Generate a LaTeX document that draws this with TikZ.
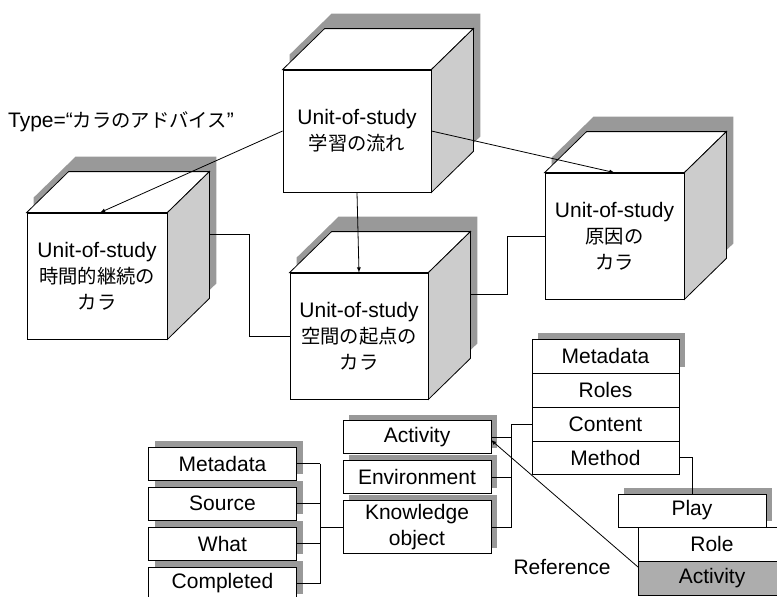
\documentclass[tikz,border=0pt]{standalone}
\usepackage{fontspec}
\setmainfont{Liberation Sans}
\newfontfamily\cjk{Noto Sans CJK JP}[Scale=0.92]
\usepackage{tikz}
\usetikzlibrary{arrows,positioning,shadows,backgrounds}

\definecolor{shadegray}{gray}{0.6}
\definecolor{sidegray}{gray}{0.8}
\definecolor{cellgray}{gray}{0.68}

\tikzset{
  front/.style={draw, fill=white, inner sep=0pt, align=center, minimum width=140pt, minimum height=126pt},
  part/.style={draw, fill=white, inner sep=0pt, outer sep=0pt, align=center, minimum width=148pt, minimum height=33pt,
    drop shadow={shadow xshift=6pt, shadow yshift=6pt, fill=shadegray, opacity=1}},
  cell/.style={draw, fill=white, inner sep=0pt, outer sep=0pt, minimum width=147pt, minimum height=34pt},
  link/.style={-latex},
}

% shadow, top and side of a cube round its front node
\newcommand\cubeparts[1]{%
  \begin{scope}[on background layer]
    \fill[shadegray] ([shift={(7,-15)}]#1.south west) -- ([shift={(7,-15)}]#1.north west)
      -- ([shift={(49,-56)}]#1.north west) -- ([shift={(49,-56)}]#1.north east)
      -- ([shift={(49,-56)}]#1.south east) -- ([shift={(7,-15)}]#1.south east) -- cycle;
  \end{scope}
  \draw[fill=white] (#1.north west) -- ++(42,-41) -- ([shift={(42,-41)}]#1.north east) -- (#1.north east) -- cycle;
  \draw[fill=sidegray] (#1.north east) -- ++(42,-41) -- ([shift={(42,-41)}]#1.south east) -- (#1.south east) -- cycle;
}

\begin{document}
\begin{tikzpicture}[x=1pt, y=-1pt, line width=0.8pt, font=\fontsize{21}{26}\selectfont]
  \useasboundingbox (0,0) rectangle (777,597);
  \clip (0,0) rectangle (777,597);

  % units of study
  \node[front, minimum width=148pt, minimum height=122pt] (flow) at (357,131) {Unit-of-study\\{\cjk 学習の流れ}};
  \node[front] (time) at (97,276) {Unit-of-study\\{\cjk 時間的継続の}\\{\cjk カラ}};
  \node[front, minimum width=138pt] (space) at (359,336) {Unit-of-study\\{\cjk 空間の起点の}\\{\cjk カラ}};
  \node[front, minimum width=139pt] (cause) at (614.5,236) {Unit-of-study\\{\cjk 原因の}\\{\cjk カラ}};
  \cubeparts{flow}
  \cubeparts{time}
  \cubeparts{space}
  \cubeparts{cause}

  \node (typelbl) at (121,122) {Type=“{\cjk カラのアドバイス}”};

  \draw[link] (flow.west) -- ([xshift=3pt]time.north);
  \draw[link] (flow.east) -- (cause.north);
  \draw[link] (flow.south) -- (space.north);
  \draw ([shift={(42,-42)}]time.east) -- ++(40,0) |- (space.west);
  \draw ([shift={(42,-42)}]space.east) -- ++(37,0) |- (cause.west);

  % knowledge object
  \node[part] (meta) at (222.5,463.5) {Metadata};
  \node[part, below=7pt of meta] (src) {Source};
  \node[part, below=7pt of src] (what) {What};
  \node[part, below=7pt of what] (done) {Completed};

  % environment
  \node[part] (act) at (417,437) {Activity};
  \node[part, below=7pt of act] (env) {Environment};
  \node[part, below=7pt of env, minimum height=53pt] (know) {Knowledge\\object};

  % unit
  \node[cell, drop shadow={shadow xshift=6pt, shadow yshift=6pt, fill=shadegray, opacity=1}] (umeta) at (605.5,356) {Metadata};
  \node[cell, below=0pt of umeta] (roles) {Roles};
  \node[cell, below=0pt of roles] (cont) {Content};
  \node[cell, below=0pt of cont, minimum height=33pt] (meth) {Method};

  % method
  \node[part] (play) at (692,510.5) {Play};
  \node[cell, minimum width=148pt] (role) at (712,544) {Role};
  \node[cell, fill=cellgray, minimum width=148pt, below=0pt of role] (ract) {Activity};

  \coordinate (bus1) at (320,0);
  \foreach \n in {meta,src,what,done}
    \draw (\n.east) -- (\n.east -| bus1);
  \draw (meta.east -| bus1) -- (done.east -| bus1);
  \draw (know.west -| bus1) -- (know.west);

  \coordinate (bus2) at (511,0);
  \draw (act.east) -- (act.east -| bus2);
  \draw (env.east) -- (env.east -| bus2);
  \draw (know.east) -- (know.east -| bus2) -- (cont.west -| bus2) -- (cont.west);
  \draw (meth.east) -| (play.north);

  \node (reflbl) at (562,567) {Reference};
  \draw[link] ([yshift=11pt]ract.west) -- ([yshift=-3pt]act.east);
\end{tikzpicture}
\end{document}
